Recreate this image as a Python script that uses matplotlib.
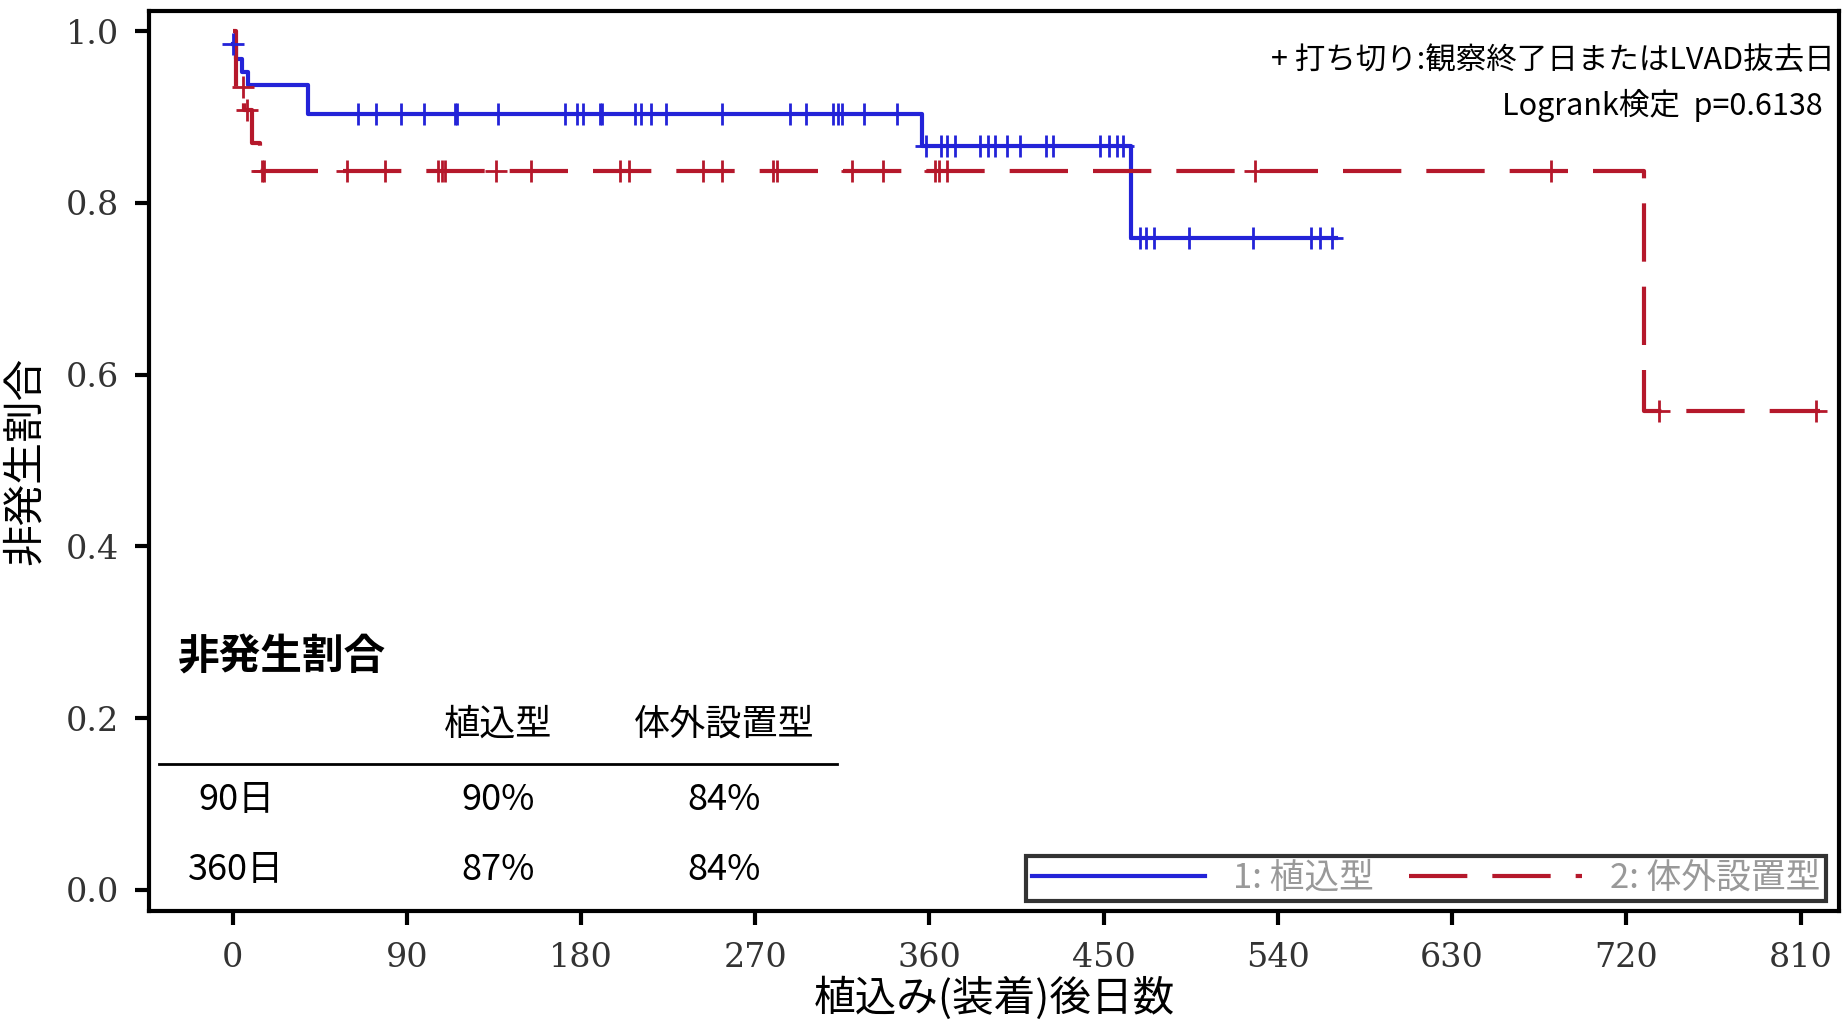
import matplotlib
matplotlib.use('Agg')
import matplotlib.pyplot as plt
import numpy as np

plt.rcParams['font.family'] = ['Noto Sans CJK JP', 'DejaVu Sans']

# step curves: (day, survival after step)
blue_steps_t = [0, 2, 5, 8, 39, 356, 464, 570]
blue_steps_s = [0.985, 0.968, 0.952, 0.937, 0.903, 0.866, 0.759, 0.759]
blue_cens_t = [0, 65, 74, 87, 99, 115, 116, 137, 172, 178, 181, 190, 191, 208, 211, 216,
               224, 253, 288, 296, 310, 313, 315, 326, 343,
               358, 366, 369, 373, 386, 390, 394, 400, 407, 420, 424, 448, 453, 457, 460,
               469, 472, 476, 494, 527, 557, 562, 568]
red_steps_t = [0, 2, 6, 10, 14, 729, 820]
red_steps_s = [1.0, 0.935, 0.908, 0.870, 0.837, 0.557, 0.557]
red_cens_t = [5.5, 7.5, 15, 16, 59, 79, 106, 108, 110, 136, 154, 200, 205, 243, 253, 279,
              281, 320, 336, 363, 365, 369, 528, 681, 737, 818]

tbl_cols = ['植込型', '体外設置型']
tbl_rows = ['90日', '360日']
tbl_vals = [['90%', '84%'], ['87%', '84%']]

def surv_at(ts, ss, t):
    i = np.searchsorted(ts, t, side='right') - 1
    return ss[max(i, 0)]

fig = plt.figure(figsize=(18.43, 10.24), dpi=100)
ax = fig.add_axes([0.081, 0.11, 0.917, 0.879])

blue = '#2323d8'
red = '#b5182b'
lb, = ax.step(blue_steps_t, blue_steps_s, where='post', color=blue, lw=3)
lr, = ax.step(red_steps_t, red_steps_s, where='post', color=red, lw=3, dashes=(14, 6))
ax.plot(blue_cens_t, [surv_at(blue_steps_t, blue_steps_s, t) for t in blue_cens_t],
        '+', color=blue, ms=16, mew=2)
ax.plot(red_cens_t, [surv_at(red_steps_t, red_steps_s, t) for t in red_cens_t],
        '+', color=red, ms=16, mew=2)

ax.set_xlim(-43, 830)
ax.set_ylim(-0.025, 1.023)
ax.set_xticks(np.arange(0, 811, 90))
ax.set_yticks([0.0, 0.2, 0.4, 0.6, 0.8, 1.0])
ax.set_yticklabels(['0.0', '0.2', '0.4', '0.6', '0.8', '1.0'])
for lab in ax.get_xticklabels() + ax.get_yticklabels():
    lab.set_family('DejaVu Serif')
    lab.set_fontsize(24)
    lab.set_color('#333333')
ax.tick_params(width=3, length=10, pad=12)
for sp in ax.spines.values():
    sp.set_linewidth(3)
ax.set_xlabel('植込み(装着)後日数', fontsize=30, labelpad=2)
ax.set_ylabel('非発生割合', fontsize=30, labelpad=14)

ax.text(0.997, 0.945, '+ 打ち切り:観察終了日またはLVAD抜去日', transform=ax.transAxes,
        ha='right', va='center', fontsize=22)
ax.text(0.99, 0.895, 'Logrank検定  p=0.6138', transform=ax.transAxes,
        ha='right', va='center', fontsize=22)

# summary table
ax.text(-28, 0.27, '非発生割合', fontsize=30, fontweight='bold', va='center')
cx = [137, 254]
for x, c in zip(cx, tbl_cols):
    ax.text(x, 0.193, c, fontsize=26, ha='center', va='center')
ax.plot([-38, 312], [0.146, 0.146], color='black', lw=2, clip_on=False)
for j, (r, row) in enumerate(zip(tbl_rows, tbl_vals)):
    y = 0.105 - j * 0.082
    ax.text(2, y, r, fontsize=26, ha='center', va='center')
    for x, v in zip(cx, row):
        ax.text(x, y, v, fontsize=26, ha='center', va='center')

leg = ax.legend([lb, lr], ['1: 植込型', '2: 体外設置型'], loc='lower right', ncol=2,
                fontsize=25, frameon=True, fancybox=False, handlelength=5,
                borderaxespad=0.3, borderpad=0.15, columnspacing=1.0,
                bbox_to_anchor=(0.998, 0.0))
leg.get_frame().set_edgecolor('black')
leg.get_frame().set_linewidth(3)
for t in leg.get_texts():
    t.set_color('#999999')

fig.savefig('out.png', dpi=100)
